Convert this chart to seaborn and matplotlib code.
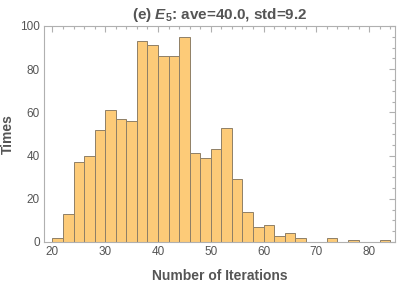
"""
plot.py - histogram of iteration counts for E5
"""

import numpy as np
import pandas as pd
import matplotlib
matplotlib.use('Agg')
import matplotlib.pyplot as plt
from matplotlib.ticker import MultipleLocator
import seaborn as sns

# bin edges run 20..84 in steps of 2; one count per bin
bin_starts = list(range(20, 84, 2))
counts = [2, 13, 37, 40, 52, 61, 57, 56, 93, 91, 86, 86, 95, 41, 39, 43,
          53, 29, 14, 7, 8, 3, 4, 2, 0, 0, 2, 0, 1, 0, 0, 1]
bin_width = 2

title = r"(e) $E_5$: ave=40.0, std=9.2"
x_label = "Number of Iterations"
y_label = "Times"

sns.set_style('white')
plt.rcParams['font.family'] = ['Liberation Sans', 'DejaVu Sans']
plt.rcParams['mathtext.fontset'] = 'custom'
plt.rcParams['mathtext.it'] = 'Liberation Sans:italic:bold'
plt.rcParams['mathtext.rm'] = 'Liberation Sans:bold'
plt.rcParams['mathtext.bf'] = 'Liberation Sans:bold'

df = pd.DataFrame({'start': bin_starts, 'count': counts})
df['center'] = df['start'] + bin_width / 2

grey = '#555555'
frame = '#b0b0b0'

fig, ax = plt.subplots(figsize=(3.99, 2.85), dpi=100)
fig.subplots_adjust(left=44/399, right=395/399, top=1-26/285, bottom=1-242/285)

sns.histplot(data=df, x='center', weights='count',
             binwidth=bin_width, binrange=(20, 84), ax=ax,
             color='#fdcb78', alpha=1.0, edgecolor='#8f7f66', linewidth=0.7)

ax.set_xlim(18.4, 84.9)
ax.set_ylim(0, 100)

ax.xaxis.set_major_locator(MultipleLocator(10))
ax.xaxis.set_minor_locator(MultipleLocator(2))
ax.yaxis.set_major_locator(MultipleLocator(20))
ax.yaxis.set_minor_locator(MultipleLocator(5))
ax.tick_params(which='both', direction='in', top=True, right=True,
               color=frame, labelcolor=grey, labelsize=8.5, width=0.8)
ax.tick_params(which='major', length=4, pad=3)
ax.tick_params(which='minor', length=2)

for spine in ax.spines.values():
    spine.set_color(frame)
    spine.set_linewidth(0.8)

ax.set_title(title, fontsize=11, fontweight='bold', color=grey, pad=5)
ax.set_xlabel(x_label, fontsize=10, fontweight='bold', color=grey)
ax.set_ylabel(y_label, fontsize=10, fontweight='bold', color=grey)
# put the axis labels where the original has them
ax.xaxis.set_label_coords(0.5, -0.125)
ax.yaxis.set_label_coords(-0.083, 0.5)

fig.savefig('out.png', dpi=100)
